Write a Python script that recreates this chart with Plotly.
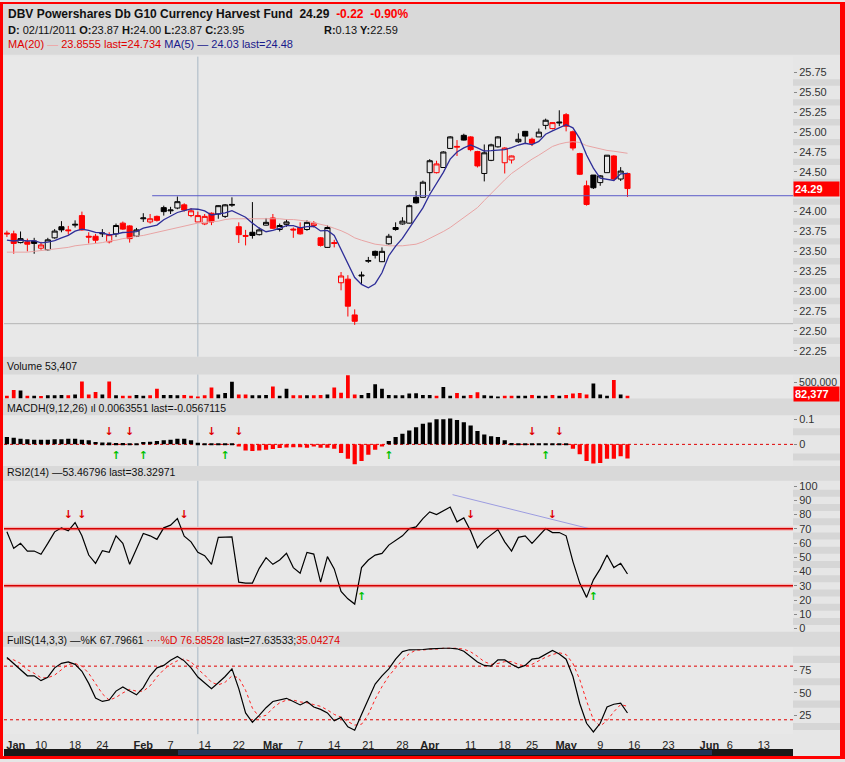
import pandas as pd
import plotly.graph_objects as go

W, H = 845, 762
NB = '\u00a0'

# trading calendar shown on the x axis (Jan 3 - Jun 17, 2011)
holidays = ['2011-01-17', '2011-02-21', '2011-04-22', '2011-05-30']
days = pd.bdate_range('2011-01-03', '2011-06-17')
days = days[~days.isin(pd.to_datetime(holidays))]

# DATA
open_ = [23.73, 23.72, 23.61, 23.62, 23.63, 23.54, 23.52, 23.67, 23.81, 23.77,
         23.83, 23.95, 23.69, 23.69, 23.72, 23.62, 23.72, 23.855, 23.82, 23.69,
         23.91, 23.87, 23.94, 24.05, 24.01, 24.045, 24.085, 23.95, 23.87, 23.845,
         23.98, 23.97, 23.94, 24.08, 23.81, 23.70, 23.74, 23.71, 23.83, 23.92,
         23.775, 23.84, 23.78, 23.80, 23.775, 23.825, 23.67, 23.55, 23.61, 23.105,
         23.15, 22.70, 23.19, 23.375, 23.50, 23.37, 23.595, 23.775, 23.845, 23.855,
         24.18, 24.18, 24.49, 24.49, 24.555, 24.795, 24.81, 24.96, 24.94, 24.755,
         24.48, 24.645, 24.815, 24.615, 24.65, 24.88, 25.01, 24.91, 24.94, 25.085,
         25.045, 25.115, 25.22, 25.005, 24.73, 24.325, 24.46, 24.365, 24.49, 24.70,
         24.41, 24.48]
high_ = [23.76, 23.76, 23.75, 23.66, 23.67, 23.62, 23.67, 23.78, 23.88, 23.82,
         23.89, 24.00, 23.74, 23.72, 23.78, 23.74, 23.85, 23.875, 23.83, 23.795,
         23.98, 23.97, 23.95, 24.075, 24.06, 24.19, 24.105, 24.045, 24.00, 23.97,
         23.99, 24.08, 24.095, 24.18, 23.865, 23.77, 24.12, 23.80, 23.92, 23.97,
         23.85, 23.90, 23.80, 23.865, 23.89, 23.88, 23.68, 23.825, 23.645, 23.24,
         23.20, 22.77, 23.245, 23.43, 23.51, 23.55, 23.72, 23.865, 23.93, 24.09,
         24.26, 24.39, 24.66, 24.64, 24.76, 24.95, 24.90, 24.98, 24.95, 24.765,
         24.845, 24.855, 24.95, 24.81, 24.705, 24.985, 25.015, 24.93, 25.045, 25.17,
         25.125, 25.275, 25.24, 25.02, 24.74, 24.39, 24.46, 24.46, 24.71, 24.71,
         24.56, 24.49]
low_ = [23.68, 23.47, 23.60, 23.50, 23.47, 23.52, 23.51, 23.66, 23.74, 23.71,
        23.80, 23.76, 23.60, 23.60, 23.68, 23.60, 23.68, 23.77, 23.61, 23.68,
        23.87, 23.85, 23.875, 23.95, 23.97, 24.03, 24.00, 23.93, 23.87, 23.83,
        23.83, 23.91, 23.92, 24.06, 23.605, 23.575, 23.66, 23.70, 23.825, 23.78,
        23.75, 23.81, 23.67, 23.71, 23.76, 23.80, 23.56, 23.545, 23.55, 23.01,
        22.68, 22.575, 23.09, 23.355, 23.41, 23.365, 23.585, 23.76, 23.835, 23.85,
        24.10, 24.18, 24.26, 24.48, 24.555, 24.795, 24.70, 24.895, 24.76, 24.555,
        24.38, 24.635, 24.805, 24.48, 24.605, 24.865, 24.855, 24.825, 24.94, 25.035,
        25.035, 25.075, 25.01, 24.77, 24.46, 24.075, 24.285, 24.325, 24.49, 24.385,
        24.385, 24.185]
close_ = [23.72, 23.60, 23.66, 23.59, 23.60, 23.58, 23.645, 23.755, 23.77, 23.76,
          23.84, 23.77, 23.68, 23.64, 23.73, 23.71, 23.825, 23.78, 23.66, 23.77,
          23.92, 23.91, 23.89, 24.00, 24.02, 24.125, 24.02, 24.01, 23.95, 23.94,
          23.87, 24.075, 24.085, 24.09, 23.71, 23.69, 23.70, 23.77, 23.865, 23.79,
          23.825, 23.87, 23.77, 23.72, 23.865, 23.855, 23.575, 23.80, 23.60, 23.19,
          22.81, 22.62, 23.20, 23.385, 23.45, 23.50, 23.69, 23.80, 23.88, 24.075,
          24.11, 24.37, 24.64, 24.60, 24.75, 24.94, 24.82, 24.90, 24.78, 24.575,
          24.74, 24.84, 24.94, 24.80, 24.70, 24.91, 24.95, 24.86, 25.00, 25.15,
          25.12, 25.125, 25.075, 24.80, 24.47, 24.09, 24.30, 24.45, 24.71, 24.41,
          24.51, 24.29]
ma20 = [23.49, 23.49, 23.49, 23.49, 23.50, 23.51, 23.52, 23.53, 23.54, 23.55,
        23.57, 23.58, 23.59, 23.60, 23.61, 23.63, 23.64, 23.66, 23.67, 23.69,
        23.70, 23.72, 23.74, 23.76, 23.78, 23.80, 23.815, 23.835, 23.856, 23.865,
        23.87, 23.88, 23.90, 23.91, 23.91, 23.91, 23.91, 23.91, 23.91, 23.91,
        23.91, 23.90, 23.90, 23.89, 23.88, 23.86, 23.84, 23.82, 23.79, 23.76,
        23.72, 23.67, 23.64, 23.61, 23.59, 23.58, 23.57, 23.57, 23.57, 23.58,
        23.59, 23.62, 23.66, 23.70, 23.75, 23.80, 23.86, 23.92, 23.98, 24.05,
        24.14, 24.23, 24.32, 24.40, 24.48, 24.54, 24.61, 24.66, 24.71, 24.76,
        24.82, 24.85, 24.87, 24.88, 24.87, 24.83, 24.81, 24.79, 24.77, 24.76,
        24.75, 24.734]
ma5 = [23.64, 23.63, 23.64, 23.63, 23.634, 23.606, 23.615, 23.634, 23.67, 23.702,
       23.754, 23.779, 23.764, 23.738, 23.732, 23.706, 23.717, 23.737, 23.741, 23.749,
       23.791, 23.808, 23.83, 23.898, 23.948, 23.989, 24.011, 24.035, 24.03, 24.009,
       23.958, 23.969, 23.984, 24.012, 23.966, 23.93, 23.855, 23.792, 23.747, 23.763,
       23.79, 23.824, 23.824, 23.795, 23.81, 23.816, 23.757, 23.763, 23.70, 23.52,
       23.33, 23.17, 23.084, 23.041, 23.093, 23.231, 23.445, 23.565, 23.664, 23.789,
       23.911, 24.047, 24.215, 24.359, 24.494, 24.66, 24.75, 24.802, 24.838, 24.803,
       24.763, 24.767, 24.775, 24.779, 24.804, 24.838, 24.86, 24.844, 24.884, 24.974,
       25.016, 25.051, 25.094, 25.054, 24.918, 24.712, 24.547, 24.422, 24.404, 24.392,
       24.476, 24.48]
volume = [85000, 265000, 245000, 85000, 85000, 75000, 95000, 95000, 105000, 95000,
          125000, 530000, 125000, 200000, 125000, 530000, 95000, 85000, 85000, 105000,
          85000, 95000, 300000, 105000, 105000, 95000, 105000, 85000, 53407, 95000,
          340000, 125000, 170000, 520000, 125000, 125000, 95000, 95000, 105000, 370000,
          85000, 305000, 95000, 95000, 95000, 95000, 105000, 125000, 340000, 180000,
          730000, 125000, 105000, 170000, 445000, 305000, 105000, 95000, 95000, 150000,
          160000, 105000, 105000, 85000, 360000, 85000, 170000, 85000, 105000, 190000,
          95000, 85000, 55000, 85000, 85000, 85000, 85000, 105000, 85000, 85000,
          105000, 85000, 105000, 150000, 170000, 125000, 465000, 125000, 85000, 575000,
          125000, 82377]
macdh = [0.029, 0.026, 0.022, 0.020, 0.018, 0.018, 0.018, 0.020, 0.020, 0.022,
         0.022, 0.018, 0.016, 0.009, 0.007, 0.007, 0.005, 0.005, 0.002, 0.002,
         0.009, 0.010, 0.013, 0.016, 0.018, 0.022, 0.022, 0.016, 0.0064, 0.004,
         0.002, 0.002, 0.003, 0.004, -0.008, -0.024, -0.026, -0.024, -0.021, -0.018,
         -0.014, -0.012, -0.011, -0.011, -0.013, -0.008, -0.013, -0.013, -0.017, -0.034,
         -0.057, -0.079, -0.066, -0.041, -0.021, -0.008, 0.013, 0.029, 0.042, 0.055,
         0.068, 0.082, 0.087, 0.100, 0.100, 0.103, 0.097, 0.088, 0.075, 0.053,
         0.039, 0.032, 0.029, 0.016, 0.005, 0.003, 0.003, 0.003, 0.002, 0.002,
         0.002, 0.002, 0.002, -0.017, -0.039, -0.066, -0.076, -0.074, -0.057, -0.057,
         -0.047, -0.0567]
rsi = [67.9, 56.3, 59.8, 54.4, 54.4, 52.1, 59.8, 67.9, 70.7, 68.6,
       74.4, 65.1, 51.6, 45.8, 54.7, 53.5, 65.1, 59.8, 45.1, 56.3,
       66.7, 65.1, 62.6, 70.7, 72.6, 77.2, 64.9, 60.9, 53.47, 51.2,
       45.1, 64.0, 64.4, 64.4, 32.6, 31.9, 31.9, 42.3, 49.8, 45.1,
       48.1, 52.8, 42.8, 38.8, 53.5, 52.3, 32.6, 50.5, 41.9, 26.0,
       20.9, 17.2, 42.8, 48.1, 51.6, 52.8, 58.6, 62.1, 65.1, 70.2,
       71.4, 77.2, 81.9, 80.0, 82.6, 85.3, 74.9, 77.7, 68.5, 56.7,
       62.1, 65.6, 69.5, 60.9, 54.4, 64.0, 65.1, 59.8, 65.1, 70.2,
       67.4, 67.4, 65.1, 47.0, 31.9, 21.9, 34.2, 41.9, 51.6, 42.8,
       45.8, 38.33]
stoch_k = [89.7, 83.1, 76.9, 69.2, 69.2, 63.8, 67.6, 78.1, 83.1, 84.7,
           82.0, 74.2, 60.7, 44.4, 40.5, 42.1, 52.1, 56.8, 52.1, 47.9,
           56.0, 69.2, 78.1, 80.8, 86.6, 90.9, 85.9, 78.1, 67.8, 61.4,
           54.8, 61.4, 68.4, 76.9, 54.8, 27.7, 17.2, 25.0, 33.5, 40.5,
           42.1, 44.0, 40.5, 36.6, 40.5, 34.3, 31.6, 27.7, 18.8, 22.7,
           12.2, 8.3, 25.8, 43.2, 59.9, 69.2, 76.9, 87.8, 96.3, 98.3,
           98.3, 98.6, 99.4, 100, 100, 100, 99.4, 96.7, 90.9, 84.7,
           80.8, 80.0, 87.0, 87.0, 82.0, 78.1, 80.8, 87.8, 89.0, 93.6,
           97.5, 93.6, 87.8, 68.4, 38.2, 16.1, 6.4, 16.1, 34.3, 37.4,
           38.6, 27.6]
stoch_d = [88, 87, 83, 76, 72, 67, 67, 70, 76, 82,
           83, 80, 72, 60, 49, 42, 45, 50, 54, 52,
           52, 58, 68, 76, 82, 86, 88, 85, 76.6, 70,
           62, 59, 62, 69, 67, 53, 33, 23, 25, 33,
           39, 42, 42, 40, 39, 37, 35, 31, 26, 23,
           18, 14, 15, 26, 43, 57, 69, 78, 87, 94,
           98, 98, 99, 99, 100, 100, 100, 99, 96, 91,
           85, 82, 83, 85, 85, 82, 80, 82, 86, 90,
           93, 95, 93, 83, 65, 41, 20, 13, 19, 29,
           37, 35.0]

# signal arrows (day index)
macd_down = [15, 18, 30, 34, 77, 81]
macd_up = [16, 20, 32, 56, 79]
rsi_down = [9, 11, 26, 68, 80]
rsi_up = [52, 86]

# drawn lines
cursor_day = 28
cursor_price = 22.59
support_level = 24.2
support_start = 21.3
rsi_trend_x = [65.35, 85.35]
rsi_trend_y = [94, 70.2]

tick_dates = ['2011-01-03', '2011-01-10', '2011-01-18', '2011-01-24', '2011-02-01', '2011-02-07',
              '2011-02-14', '2011-02-22', '2011-03-01', '2011-03-07', '2011-03-14', '2011-03-21',
              '2011-03-28', '2011-04-01', '2011-04-11', '2011-04-18', '2011-04-25', '2011-05-02',
              '2011-05-09', '2011-05-16', '2011-05-23', '2011-06-01', '2011-06-06', '2011-06-13']
tick_text = ['<b>Jan</b>', '10', '18', '24', '<b>Feb</b>', '7', '14', '22', '<b>Mar</b>', '7', '14', '21',
             '28', '<b>Apr</b>', '11', '18', '25', '<b>May</b>', '9', '16', '23', '<b>Jun</b>', '6', '13']
price_ticks = [22.25, 22.5, 22.75, 23.0, 23.25, 23.5, 23.75, 24.0, 24.5, 24.75, 25.0, 25.25, 25.5, 25.75]

RED = '#ff0000'
BLACK = '#000000'
BG = '#e8e8e8'
BAND = '#d9d9d9'

n = len(close_)
xi = list(range(n))
prev = [open_[0]] + close_[:-1]
is_red = [c < p for c, p in zip(close_, prev)]

tick_pos = [int(days.get_loc(pd.Timestamp(d))) for d in tick_dates]
tick_pos[0] += 1.3   # keep first label inside the frame


def py(p):
    return 1 - p / H


def dom(top, bottom):
    return [py(bottom), py(top)]


X_DOM = [4 / W, 793 / W]
X_RANGE = [-0.425, 115.27]

fig = go.Figure()


def candle(mask, col):
    sel = [i for i in xi if mask[i]]
    return go.Candlestick(x=sel, open=[open_[i] for i in sel], high=[high_[i] for i in sel],
                          low=[low_[i] for i in sel], close=[close_[i] for i in sel],
                          increasing=dict(line=dict(color=col, width=1), fillcolor=BG),
                          decreasing=dict(line=dict(color=col, width=1), fillcolor=col),
                          whiskerwidth=0, hoverinfo='skip', xaxis='x', yaxis='y')


fig.add_trace(candle([not r for r in is_red], BLACK))
fig.add_trace(candle(is_red, RED))
fig.add_trace(go.Scatter(x=xi, y=ma20, mode='lines', line=dict(color='#e8a4a4', width=1),
                         hoverinfo='skip', xaxis='x', yaxis='y'))
fig.add_trace(go.Scatter(x=xi, y=ma5, mode='lines', line=dict(color='#2e2e98', width=1.3),
                         hoverinfo='skip', xaxis='x', yaxis='y'))

fig.add_trace(go.Bar(x=xi, y=volume, width=0.55, marker=dict(color=[RED if r else BLACK for r in is_red], line_width=0),
                     hoverinfo='skip', xaxis='x2', yaxis='y2'))

fig.add_trace(go.Bar(x=xi, y=macdh, width=0.62, marker=dict(color=[RED if v < 0 else BLACK for v in macdh], line_width=0),
                     hoverinfo='skip', xaxis='x3', yaxis='y3'))


def arrows(xs, yv, sym, col, xa, ya):
    return go.Scatter(x=xs, y=[yv] * len(xs), mode='text', text=[sym] * len(xs),
                      textfont=dict(color=col, size=11, family='DejaVu Sans'),
                      hoverinfo='skip', xaxis=xa, yaxis=ya)


fig.add_trace(arrows(macd_down, 0.049, '<b>↓</b>', '#e00000', 'x3', 'y3'))
fig.add_trace(arrows(macd_up, -0.046, '<b>↑</b>', '#00c000', 'x3', 'y3'))

fig.add_trace(go.Scatter(x=rsi_trend_x, y=rsi_trend_y, mode='lines', line=dict(color='#9c9ce0', width=1),
                         hoverinfo='skip', xaxis='x4', yaxis='y4'))
fig.add_trace(go.Scatter(x=xi, y=rsi, mode='lines', line=dict(color=BLACK, width=1.2),
                         hoverinfo='skip', xaxis='x4', yaxis='y4'))
fig.add_trace(arrows(rsi_down, 79.3, '<b>↓</b>', '#e00000', 'x4', 'y4'))
fig.add_trace(arrows(rsi_up, 22.1, '<b>↑</b>', '#00c000', 'x4', 'y4'))

fig.add_trace(go.Scatter(x=xi, y=stoch_d, mode='lines', line=dict(color='#ff2020', width=1, dash='dot'),
                         hoverinfo='skip', xaxis='x5', yaxis='y5'))
fig.add_trace(go.Scatter(x=xi, y=stoch_k, mode='lines', line=dict(color=BLACK, width=1.2),
                         hoverinfo='skip', xaxis='x5', yaxis='y5'))

# axes
ax = dict(showgrid=False, zeroline=False, showline=False, domain=X_DOM, fixedrange=True)


def yax(d, rng, tv, tt, anchor, size=11):
    return dict(domain=d, range=rng, side='right', anchor=anchor, tickmode='array', tickvals=tv, ticktext=tt,
                ticks='outside', ticklen=3, tickcolor='#888', tickfont=dict(size=size, color='#333'),
                showgrid=False, zeroline=False, fixedrange=True)


fig.update_layout(
    width=W, height=H, margin=dict(l=0, r=0, t=0, b=0),
    paper_bgcolor='#e6e6e6', plot_bgcolor=BG, showlegend=False,
    font=dict(family='Liberation Sans', color='#111'),
    boxgap=0.25, boxgroupgap=0,
    xaxis=dict(range=X_RANGE, showticklabels=False, rangeslider=dict(visible=False), anchor='y', **ax),
    xaxis2=dict(matches='x', showticklabels=False, anchor='y2', **ax),
    xaxis3=dict(matches='x', showticklabels=False, anchor='y3', **ax),
    xaxis4=dict(matches='x', showticklabels=False, anchor='y4', **ax),
    xaxis5=dict(matches='x', anchor='y5', tickmode='array', tickvals=tick_pos, ticktext=tick_text,
                ticks='', ticklabelstandoff=3, tickfont=dict(size=11, color='#222'), **ax),
    yaxis=yax(dom(55, 357), [22.175, 25.95], price_ticks, [f'{v:.2f}' for v in price_ticks], 'x'),
    yaxis2=yax(dom(375, 399), [0, 750000], [500000], ['500,000'], 'x2', 10.5),
    yaxis3=yax(dom(416, 467), [-0.0858, 0.1158], [0, 0.1], ['0', '0.1'], 'x3'),
    yaxis4=yax(dom(482, 634), [-2.3, 103.7], list(range(0, 101, 10)), [str(v) for v in range(0, 101, 10)], 'x4'),
    yaxis5=yax(dom(649, 737), [3.9, 101.7], [25, 50, 75], ['25', '50', '75'], 'x5'),
)

shapes = []
# header bands
for top, bot in [(0, 53), (357, 375), (399, 416), (467, 482), (634, 649)]:
    shapes.append(dict(type='rect', xref='paper', yref='paper', x0=0, x1=1, y0=py(bot), y1=py(top),
                       fillcolor=BAND, line_width=0, layer='below'))
# stripes in the right-hand scale area
SX0 = 793 / W
stripe_sets = [('y', [t + 0.125 for t in [22.25 + 0.25 * k for k in range(14)]], 0.04),
               ('y4', [5 + 10 * k for k in range(10)], 2.5),
               ('y5', [12.5, 37.5, 62.5, 87.5], 4),
               ('y3', [0.05, -0.05], 0.014)]
for yref, mids, hw in stripe_sets:
    for m in mids:
        shapes.append(dict(type='rect', xref='paper', yref=yref, x0=SX0, x1=1, y0=m - hw, y1=m + hw,
                           fillcolor='#d6d6d6', line_width=0, layer='below'))
# cursor cross-hair
for k in ['', '2', '3', '4', '5']:
    shapes.append(dict(type='line', xref='x' + k, yref=f'y{k} domain', x0=cursor_day, x1=cursor_day,
                       y0=0, y1=1, line=dict(color='#a9b8c4', width=1), layer='below'))
shapes.append(dict(type='line', xref='x domain', yref='y', x0=0, x1=1, y0=cursor_price, y1=cursor_price,
                   line=dict(color='#b4b4b4', width=1), layer='below'))
# support line
shapes.append(dict(type='line', xref='x', yref='y', x0=support_start, x1=X_RANGE[1], y0=support_level,
                   y1=support_level, line=dict(color='#5a5ac8', width=1)))
# reference levels
for lvl in [70, 30]:
    shapes.append(dict(type='line', xref='x4 domain', yref='y4', x0=0, x1=1, y0=lvl, y1=lvl,
                       line=dict(color='#f4b4b4', width=4), layer='below'))
    shapes.append(dict(type='line', xref='x4 domain', yref='y4', x0=0, x1=1, y0=lvl, y1=lvl,
                       line=dict(color='#d40000', width=1.5)))
for lvl in [80, 20]:
    shapes.append(dict(type='line', xref='x5 domain', yref='y5', x0=0, x1=1, y0=lvl, y1=lvl,
                       line=dict(color='#e00000', width=1, dash='dot'), layer='below'))
shapes.append(dict(type='line', xref='x3 domain', yref='y3', x0=0, x1=1, y0=0, y1=0,
                   line=dict(color='#e00000', width=1, dash='dot'), layer='below'))
# navigator strip at the bottom
shapes.append(dict(type='rect', xref='paper', yref='paper', x0=4 / W, x1=793 / W, y0=py(759), y1=py(752),
                   fillcolor='#181818', line=dict(width=0)))
shapes.append(dict(type='rect', xref='paper', yref='paper', x0=178 / W, x1=712 / W, y0=py(758), y1=py(753),
                   fillcolor='#22345a', line=dict(width=0)))
# red frame
for x0, x1, y0, y1 in [(0, 3, 0, H), (840, W, 0, H), (0, W, 0, 2), (0, W, 759, H)]:
    shapes.append(dict(type='rect', xref='paper', yref='paper', x0=x0 / W, x1=x1 / W, y0=py(y1), y1=py(y0),
                       fillcolor=RED, line_width=0))
fig.update_layout(shapes=shapes)


def label(x, y, text, size=10.5):
    fig.add_annotation(x=x / W, y=py(y), xref='paper', yref='paper', xanchor='left', yanchor='middle',
                       text=text, showarrow=False, font=dict(size=size, color='#111'))


chg = close_[-1] - close_[-2]
pct = chg / close_[-2] * 100
label(6, 12, f"<b>DBV Powershares Db G10 Currency Harvest Fund{NB * 2}{close_[-1]:.2f}{NB * 2}"
             f"<span style='color:#ff0000'>{chg:+.2f}{NB * 2}{pct:+.2f}%</span></b>", 12)
c = cursor_day
label(6, 28, f"<b>D:</b> {days[c].strftime('%m/%d/%Y')} <b>O:</b>{open_[c]:.2f} <b>H:</b>{high_[c]:.2f} "
             f"<b>L:</b>{low_[c]:.2f} <b>C:</b>{close_[c]:.2f}", 11)
label(322, 28, f"<b>R:</b>{high_[c] - low_[c]:.2f} <b>Y:</b>{cursor_price:.2f}", 11)
label(6, 42, "<span style='color:#e00000'>MA(20) </span><span style='color:#f0a0a0'>—</span>"
             "<span style='color:#e00000'> 23.8555 last=24.734 </span>"
             "<span style='color:#1a1a8c'>MA(5) — 24.03 last=24.48</span>", 11)
label(5, 366, f"Volume {volume[c]:,}")
label(5, 409, "MACDH(9,12,26) ıl 0.0063551 last=-0.0567115")
label(5, 473, "RSI2(14) —53.46796 last=38.32971")
label(5, 642, "FullS(14,3,3) —%K 67.79661 <span style='color:#e00000'>····%D 76.58528</span> "
              "last=27.63533;<span style='color:#e00000'>35.04274</span>")

# last-value boxes on the scale
fig.add_annotation(x=793 / W, xref='paper', y=close_[-1], yref='y', xanchor='left', yanchor='middle',
                   text=f'<b>{close_[-1]:.2f}</b>', showarrow=False, bgcolor=RED, width=43, align='left',
                   borderpad=1, font=dict(color='white', size=11))
fig.add_annotation(x=793 / W, xref='paper', y=volume[-1], yref='y2', xanchor='left', yanchor='middle',
                   yshift=2, text=f'<b>{volume[-1]:,}</b>', showarrow=False, bgcolor=RED, width=43,
                   align='left', borderpad=1, font=dict(color='white', size=11))

# the page body has a default 8px margin; drop it so the figure sits at the window corner
fig.write_html("out.html", config={'displayModeBar': False},
               post_script="document.body.style.margin='0';")
